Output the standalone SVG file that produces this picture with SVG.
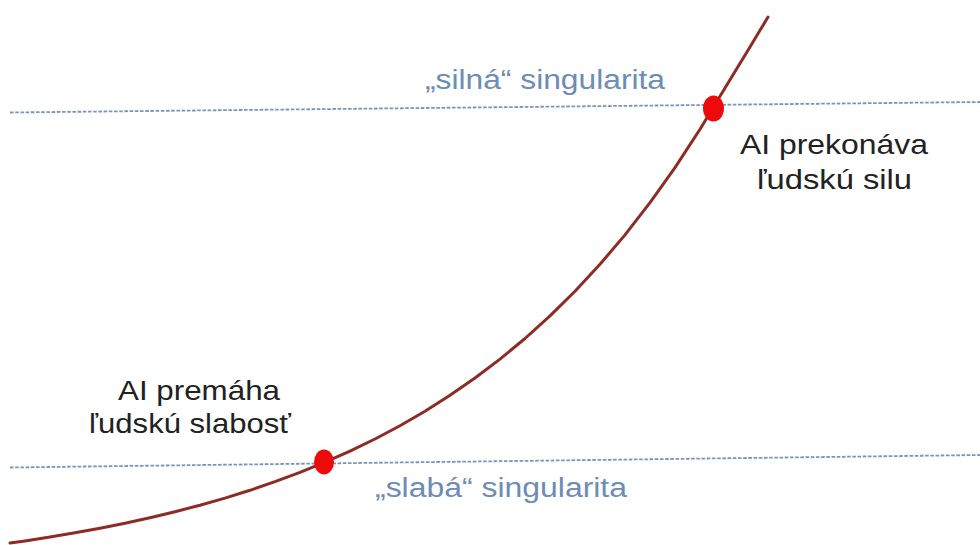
<svg xmlns="http://www.w3.org/2000/svg" width="980" height="545" viewBox="0 0 980 545">
<style>
.guide{stroke:#7896bd;stroke-width:1.8;stroke-dasharray:3.6 1.6;fill:none}
.curve{stroke:#8e2b24;stroke-width:3;fill:none;stroke-linejoin:round;stroke-linecap:round}
.dot{fill:#ee0a0a}
.blue{font-family:"Liberation Sans",Arial,sans-serif;font-size:27px;fill:#6d8cb6}
.black{font-family:"Liberation Sans",Arial,sans-serif;font-size:28px;fill:#222222}
</style>
<rect width="980" height="545" fill="#ffffff"/>
<g id="connectors">
<line class="guide" x1="10" y1="112.5" x2="980" y2="102"/>
<line class="guide" x1="10" y1="467.5" x2="980" y2="455"/>
<polyline class="curve" points="10,543 25,540.9 50,537 75,532.8 100,528.2 125,523.2 150,517.7 175,511.7 200,505.2 225,498.1 250,490.3 275,481.7 300,472.4 325,462.2 350,451.1 375,439 400,425.7 425,411.2 450,395.3 475,378 500,359.1 525,338.5 550,315.9 575,291.2 600,264.3 625,234.9 650,202.7 675,167.6 700,129.2 725,88 750,47 768,17"/>
</g>
<g id="weak-point"><ellipse class="dot" cx="324" cy="462" rx="10" ry="12.5"/></g>
<g id="strong-point"><ellipse class="dot" cx="713.5" cy="108.5" rx="10.5" ry="13"/></g>
<g id="strong-label"><text class="blue" x="425" y="89" textLength="240" lengthAdjust="spacingAndGlyphs">„silná“ singularita</text></g>
<g id="weak-label"><text class="blue" x="375" y="497" textLength="252" lengthAdjust="spacingAndGlyphs">„slabá“ singularita</text></g>
<g id="strong-note">
<text class="black" x="740" y="154" textLength="188" lengthAdjust="spacingAndGlyphs">AI prekonáva</text>
<text class="black" x="757" y="189" textLength="155" lengthAdjust="spacingAndGlyphs">ľudskú silu</text>
</g>
<g id="weak-note">
<text class="black" x="118" y="400" textLength="162" lengthAdjust="spacingAndGlyphs">AI premáha</text>
<text class="black" x="89" y="433" textLength="202" lengthAdjust="spacingAndGlyphs">ľudskú slabosť</text>
</g>
</svg>
